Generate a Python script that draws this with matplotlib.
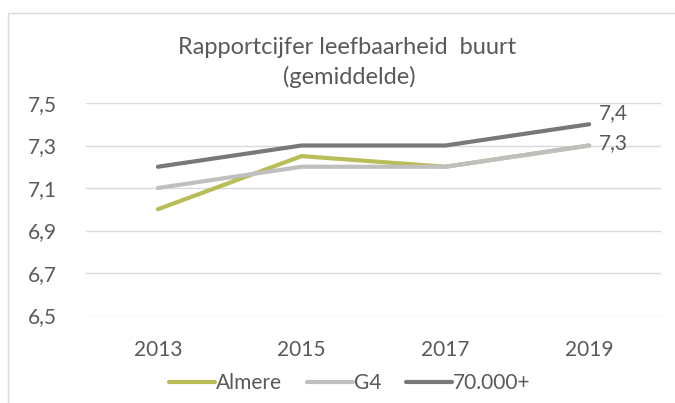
import matplotlib.pyplot as plt
from matplotlib.patches import Rectangle

years = ['2013', '2015', '2017', '2019']
almere = [7.0, 7.25, 7.2, 7.3]
g4 = [7.1, 7.2, 7.2, 7.3]
groot = [7.2, 7.3, 7.3, 7.4]
yticks = [6.5, 6.7, 6.9, 7.1, 7.3, 7.5]

txt = '#595959'
plt.rcParams['font.family'] = ['Lato', 'DejaVu Sans']

fig = plt.figure(figsize=(6.75, 4.03), dpi=100)
# chart border
fig.patches.append(Rectangle((8 / 675, -0.1), 1.2, (403 - 13) / 403 + 0.1,
                             transform=fig.transFigure, fill=False,
                             edgecolor='#d9d9d9', linewidth=1))

ax = fig.add_axes([86 / 675, 1 - 315.5 / 403, 575 / 675, (315.5 - 103) / 403])
x = range(len(years))
ax.plot(x, almere, color='#b9bd58', lw=3.0, solid_capstyle='round', label='Almere')
ax.plot(x, g4, color='#bfbfbf', lw=3.0, solid_capstyle='round', label='G4')
ax.plot(x, groot, color='#787878', lw=3.0, solid_capstyle='round', label='70.000+')

ax.set_xlim(-0.5, 3.5)
ax.set_ylim(6.5, 7.5)
ax.set_xticks(list(x))
ax.set_xticklabels(years)
ax.set_yticks(yticks)
ax.set_yticklabels([f'{v:.1f}'.replace('.', ',') for v in yticks])
ax.grid(axis='y', color='#d9d9d9', lw=1)
ax.set_axisbelow(True)
for s in ax.spines.values():
    s.set_visible(False)
ax.tick_params(length=0, labelsize=15, colors=txt)
ax.tick_params(axis='x', pad=18)
ax.tick_params(axis='y', pad=21)

ax.annotate(f'{groot[-1]:.1f}'.replace('.', ','), (3, groot[-1]), xytext=(7, 8),
            textcoords='offset points', fontsize=15, color=txt, va='center')
ax.annotate(f'{g4[-1]:.1f}'.replace('.', ','), (3, g4[-1]), xytext=(7, 1.5),
            textcoords='offset points', fontsize=15, color=txt, va='center')

fig.text(347 / 675, 1 - 47 / 403, 'Rapportcijfer leefbaarheid  buurt', ha='center',
         va='center', fontsize=17, color=txt)
fig.text(349 / 675, 1 - 77 / 403, '(gemiddelde)', ha='center', va='center',
         fontsize=17, color=txt)

fig.legend(loc='center', bbox_to_anchor=(350 / 675, 1 - 383 / 403), ncol=3,
           frameon=False, fontsize=15, labelcolor=txt, handlelength=2.2,
           handletextpad=0.05, columnspacing=1.2)

fig.savefig('out.png', dpi=100)
